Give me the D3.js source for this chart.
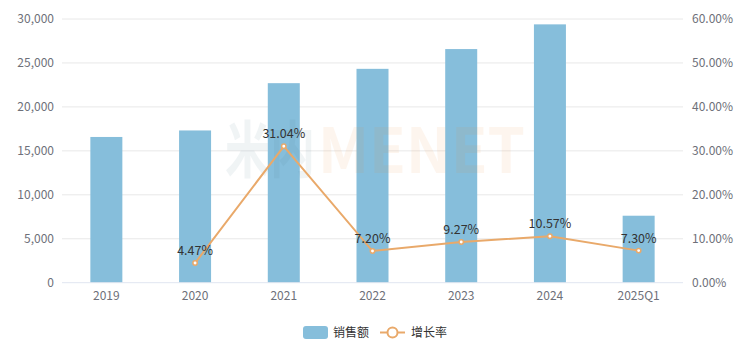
<!DOCTYPE html>
<html>
<head>
    <meta charset="utf-8">
    <script src="https://d3js.org/d3.v7.min.js"></script>
    <style>
        body { margin: 0; background: #fff; }
        text { font-family: "Noto Sans CJK SC", "Noto Sans", sans-serif; }
    </style>
</head>
<body>
    <div id="chart"></div>
    <script>
        // data
        const categories = ["2019", "2020", "2021", "2022", "2023", "2024", "2025Q1"];
        const sales = [16580, 17320, 22700, 24330, 26580, 29390, 7620];
        const growth = [null, 4.47, 31.04, 7.20, 9.27, 10.57, 7.30];
        const leftTicks = [0, 5000, 10000, 15000, 20000, 25000, 30000];
        const rightTicks = [0, 10, 20, 30, 40, 50, 60];

        function program() {
            const W = 752, H = 353;
            const left = 62, right = 683, top = 19, bottom = 282.7;

            const svg = d3.select("#chart").append("svg")
                .attr("width", W).attr("height", H);

            const x = d3.scaleBand().domain(categories).range([left, right]).padding(0);
            const y = d3.scaleLinear().domain([0, 30000]).range([bottom, top]);
            const y2 = d3.scaleLinear().domain([0, 60]).range([bottom, top]);

            // grid lines
            svg.append("g")
                .selectAll("line")
                .data(leftTicks.slice(1))
                .join("line")
                .attr("x1", left).attr("x2", right)
                .attr("y1", d => y(d)).attr("y2", d => y(d))
                .attr("stroke", "#e8e8e8").attr("stroke-width", 1);

            // left axis labels
            const fmt = d3.format(",");
            svg.append("g")
                .selectAll("text")
                .data(leftTicks)
                .join("text")
                .attr("x", 54).attr("y", d => y(d))
                .attr("dy", "0.35em")
                .attr("text-anchor", "end")
                .attr("font-size", 12)
                .attr("fill", "#6e7079")
                .text(d => fmt(d));

            // right axis labels
            svg.append("g")
                .selectAll("text")
                .data(rightTicks)
                .join("text")
                .attr("x", 692).attr("y", d => y2(d))
                .attr("dy", "0.35em")
                .attr("text-anchor", "start")
                .attr("font-size", 12)
                .attr("fill", "#6e7079")
                .text(d => d.toFixed(2) + "%");

            // bars
            const bw = 32;
            svg.append("g")
                .selectAll("rect")
                .data(sales)
                .join("rect")
                .attr("x", (d, i) => x(categories[i]) + x.bandwidth() / 2 - bw / 2)
                .attr("y", d => y(d))
                .attr("width", bw)
                .attr("height", d => bottom - y(d))
                .attr("fill", "#86bedb");

            // x axis line
            svg.append("line")
                .attr("x1", left).attr("x2", right)
                .attr("y1", bottom).attr("y2", bottom)
                .attr("stroke", "#e0e6f1");

            // x labels
            svg.append("g")
                .selectAll("text")
                .data(categories)
                .join("text")
                .attr("x", d => x(d) + x.bandwidth() / 2)
                .attr("y", 296)
                .attr("dy", "0.35em")
                .attr("text-anchor", "middle")
                .attr("font-size", 12)
                .attr("fill", "#6e7079")
                .text(d => d);

            // watermark (faint, sits over the bars like the original)
            const wm = svg.append("g").attr("opacity", 0.08)
                .attr("font-weight", "bold").attr("font-size", 62);
            wm.append("text").attr("x", 225).attr("y", 173)
                .attr("textLength", 90).attr("lengthAdjust", "spacingAndGlyphs")
                .attr("fill", "#4a7a90").text("米内");
            wm.append("text").attr("x", 318).attr("y", 173)
                .attr("textLength", 207).attr("lengthAdjust", "spacingAndGlyphs")
                .attr("fill", "#f08a30").attr("font-family", "Liberation Sans, sans-serif")
                .text("MENET");

            // growth line
            const pts = growth.map((g, i) => ({ c: categories[i], v: g })).filter(d => d.v !== null);
            const line = d3.line()
                .x(d => x(d.c) + x.bandwidth() / 2)
                .y(d => y2(d.v));
            svg.append("path")
                .datum(pts)
                .attr("d", line)
                .attr("fill", "none")
                .attr("stroke", "#e9a96a")
                .attr("stroke-width", 2);

            svg.append("g")
                .selectAll("circle")
                .data(pts)
                .join("circle")
                .attr("cx", d => x(d.c) + x.bandwidth() / 2)
                .attr("cy", d => y2(d.v))
                .attr("r", 2.2)
                .attr("fill", "#fff")
                .attr("stroke", "#e9a96a")
                .attr("stroke-width", 1.5);

            svg.append("g")
                .selectAll("text")
                .data(pts)
                .join("text")
                .attr("x", d => x(d.c) + x.bandwidth() / 2)
                .attr("y", d => y2(d.v) - 8)
                .attr("text-anchor", "middle")
                .attr("font-size", 12.5)
                .attr("fill", "#333")
                .text(d => d.v.toFixed(2) + "%");

            // legend
            const lg = svg.append("g");
            lg.append("rect")
                .attr("x", 303).attr("y", 326).attr("width", 25).attr("height", 13)
                .attr("rx", 3).attr("fill", "#86bedb");
            lg.append("text")
                .attr("x", 333).attr("y", 332.5).attr("dy", "0.35em")
                .attr("font-size", 12).attr("fill", "#333").text("销售额");
            lg.append("line")
                .attr("x1", 380).attr("x2", 405).attr("y1", 332.5).attr("y2", 332.5)
                .attr("stroke", "#e9a96a").attr("stroke-width", 2);
            lg.append("circle")
                .attr("cx", 392.5).attr("cy", 332.5).attr("r", 5)
                .attr("fill", "#fff").attr("stroke", "#e9a96a").attr("stroke-width", 2);
            lg.append("text")
                .attr("x", 411).attr("y", 332.5).attr("dy", "0.35em")
                .attr("font-size", 12).attr("fill", "#333").text("增长率");
        }

        program();
    </script>
</body>
</html>
